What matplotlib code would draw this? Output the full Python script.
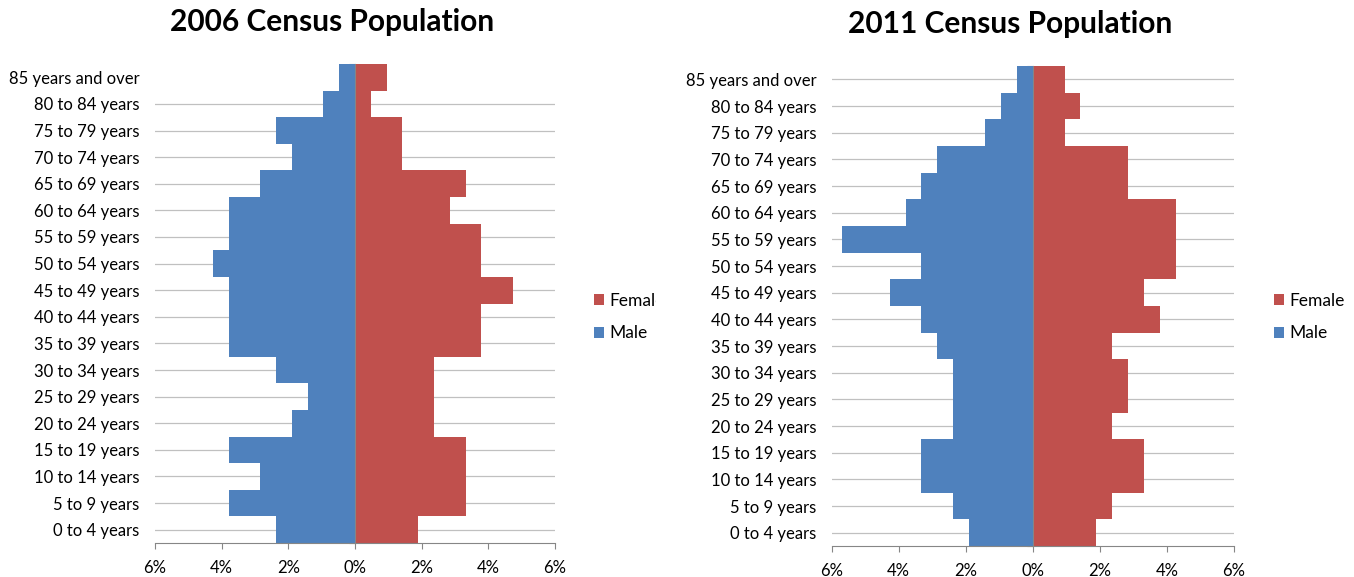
import matplotlib
matplotlib.use("Agg")
import matplotlib.pyplot as plt
import numpy as np
from matplotlib.ticker import FuncFormatter, FixedLocator
from matplotlib.transforms import Bbox

plt.rcParams["font.family"] = ["Lato", "DejaVu Sans"]

# age groups, bottom to top
AGE_GROUPS = [
    "0 to 4 years", "5 to 9 years", "10 to 14 years", "15 to 19 years",
    "20 to 24 years", "25 to 29 years", "30 to 34 years", "35 to 39 years",
    "40 to 44 years", "45 to 49 years", "50 to 54 years", "55 to 59 years",
    "60 to 64 years", "65 to 69 years", "70 to 74 years", "75 to 79 years",
    "80 to 84 years", "85 years and over",
]

# percent of total population
MALE_2006 = [2.37, 3.79, 2.84, 3.79, 1.90, 1.42, 2.37, 3.79, 3.79,
             3.79, 4.27, 3.79, 3.79, 2.84, 1.90, 2.37, 0.95, 0.47]
FEMALE_2006 = [1.90, 3.32, 3.32, 3.32, 2.37, 2.37, 2.37, 3.79, 3.79,
               4.74, 3.79, 3.79, 2.84, 3.32, 1.42, 1.42, 0.47, 0.95]
MALE_2011 = [1.90, 2.37, 3.32, 3.32, 2.37, 2.37, 2.37, 2.84, 3.32,
             4.27, 3.32, 5.69, 3.79, 3.32, 2.84, 1.42, 0.95, 0.47]
FEMALE_2011 = [1.90, 2.37, 3.32, 3.32, 2.37, 2.84, 2.84, 2.37, 3.79,
               3.32, 4.27, 4.27, 4.27, 2.84, 2.84, 0.95, 1.42, 0.95]

X_TICKS = [-6, -4, -2, 0, 2, 4, 6]

BLUE = "#4F81BD"
RED = "#C0504D"
GRID = "#C0C0C0"
AXIS = "#868686"


def draw_pyramid(ax, male, female, hide_top_grid=False):
    y = np.arange(len(AGE_GROUPS))
    m = ax.barh(y, -np.asarray(male), height=1.0, color=BLUE, linewidth=0, label="Male")
    f = ax.barh(y, female, height=1.0, color=RED, linewidth=0, label="Female")

    ax.set_xlim(-6, 6)
    ax.set_ylim(-0.5, len(AGE_GROUPS) - 0.5)
    ax.set_axisbelow(True)

    ax.set_xticks(X_TICKS)
    ax.xaxis.set_major_formatter(FuncFormatter(lambda v, _: f"{abs(v):.0f}%"))
    ax.tick_params(axis="x", direction="out", length=4.5, width=0.8, color=AXIS,
                   labelsize=12, pad=7.5)

    ax.set_yticks(y)
    ax.set_yticklabels(AGE_GROUPS)
    ax.yaxis.set_minor_locator(FixedLocator(np.arange(len(AGE_GROUPS) + 1) - 0.5))
    ax.tick_params(axis="y", which="major", left=True, right=False, length=0,
                   labelsize=12, pad=11)
    ax.tick_params(axis="y", which="minor", left=False, right=True, direction="in",
                   length=4.5, width=0.8, color=AXIS, labelright=False)
    ax.grid(axis="y", which="major", color=GRID, linewidth=0.9)

    ax.spines["top"].set_visible(False)
    ax.spines["left"].set_visible(False)
    ax.spines["right"].set_position(("data", 0))
    ax.spines["right"].set_color(AXIS)
    ax.spines["right"].set_linewidth(0.8)
    ax.spines["bottom"].set_color(AXIS)
    ax.spines["bottom"].set_linewidth(0.8)

    if hide_top_grid:
        ax.yaxis.get_gridlines()[-1].set_visible(False)
    return f, m


fig = plt.figure(figsize=(13.54, 5.77), dpi=100)
W, H = 1354, 577

ax1 = fig.add_axes([155 / W, 1 - 543 / H, 400 / W, 479 / H])
ax2 = fig.add_axes([831.5 / W, 1 - 546 / H, 402.5 / W, 480 / H])

handles1 = draw_pyramid(ax1, MALE_2006, FEMALE_2006, hide_top_grid=True)
handles2 = draw_pyramid(ax2, MALE_2011, FEMALE_2011)

fig.text(332 / W, 1 - 22 / H, "2006 Census Population", ha="center", va="center",
         fontsize=21.5, fontweight="bold")
fig.text(1010 / W, 1 - 24 / H, "2011 Census Population", ha="center", va="center",
         fontsize=21.5, fontweight="bold")

legend_kw = dict(loc="center left", bbox_transform=fig.transFigure, frameon=False,
                 fontsize=12.5, handlelength=0.6, handleheight=0.6,
                 handletextpad=0.3, labelspacing=0.95, borderpad=0, borderaxespad=0)
leg1 = ax1.legend(handles1, ["Female", "Male"], bbox_to_anchor=(594 / W, 1 - 317 / H), **legend_kw)
leg2 = ax2.legend(handles2, ["Female", "Male"], bbox_to_anchor=(1274 / W, 1 - 317 / H), **legend_kw)

# the left panel was cut off at its right edge, clipping the legend text
clip = Bbox.from_extents(0, 0, 656, H)
for t in leg1.get_texts():
    t.set_clip_box(clip)
    t.set_clip_on(True)

fig.savefig("out.png", dpi=100)
